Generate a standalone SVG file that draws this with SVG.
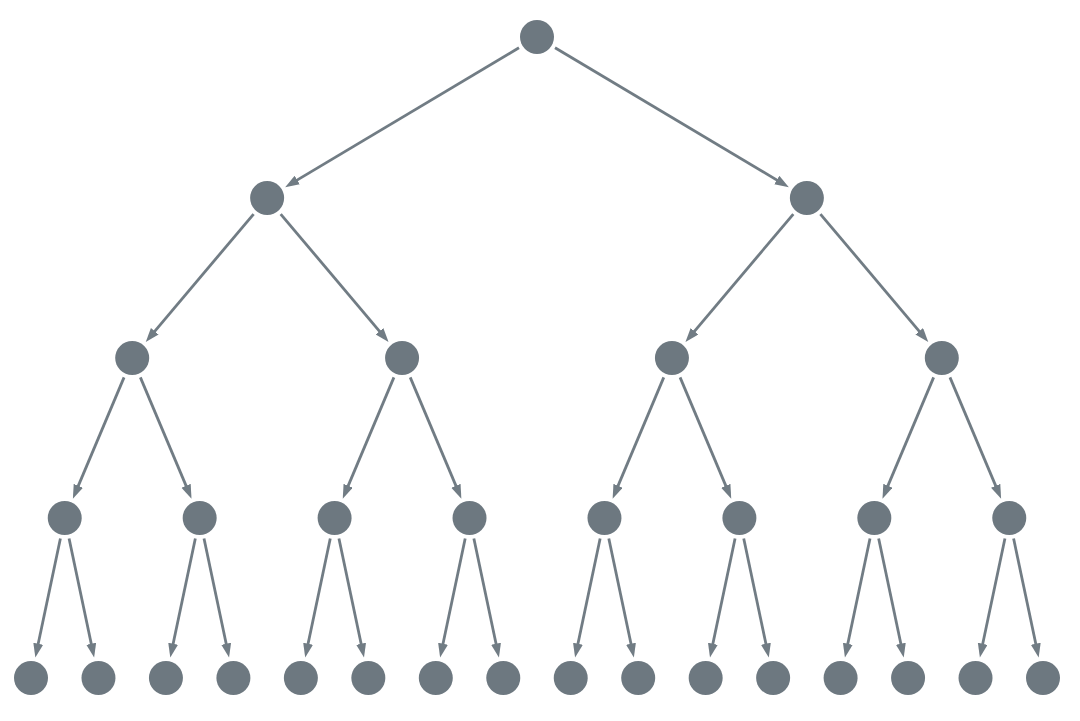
<svg xmlns="http://www.w3.org/2000/svg" width="1080" height="721" viewBox="0 0 1080 721">
<style>
.n{fill:#6d7880}
.e line{stroke:#717c84;stroke-width:2.8;fill:none;marker-end:url(#ah)}
</style>
<defs>
<marker id="ah" markerUnits="userSpaceOnUse" markerWidth="15" markerHeight="11" refX="8" refY="5" orient="auto">
<path d="M0,0 L14,5 L0,10 z" fill="#717c84"/>
</marker>
</defs>
<rect width="1080" height="721" fill="#ffffff"/>
<g id="edges" class="e">
<line x1="518.97" y1="47.76" x2="290.32" y2="184.17"/>
<line x1="555.03" y1="47.76" x2="783.68" y2="184.17"/>
<line x1="253.59" y1="214.05" x2="149.61" y2="337.36"/>
<line x1="280.67" y1="214.05" x2="384.66" y2="337.36"/>
<line x1="793.33" y1="214.05" x2="689.34" y2="337.36"/>
<line x1="820.41" y1="214.05" x2="924.39" y2="337.36"/>
<line x1="124.04" y1="377.35" x2="75.22" y2="493.12"/>
<line x1="140.36" y1="377.35" x2="189.18" y2="493.12"/>
<line x1="393.91" y1="377.35" x2="345.09" y2="493.12"/>
<line x1="410.23" y1="377.35" x2="459.04" y2="493.12"/>
<line x1="663.77" y1="377.35" x2="614.96" y2="493.12"/>
<line x1="680.09" y1="377.35" x2="728.91" y2="493.12"/>
<line x1="933.64" y1="377.35" x2="884.82" y2="493.12"/>
<line x1="949.96" y1="377.35" x2="998.78" y2="493.12"/>
<line x1="60.40" y1="538.55" x2="36.57" y2="651.58"/>
<line x1="69.06" y1="538.55" x2="92.89" y2="651.58"/>
<line x1="195.34" y1="538.55" x2="171.51" y2="651.58"/>
<line x1="204.00" y1="538.55" x2="227.83" y2="651.58"/>
<line x1="330.27" y1="538.55" x2="306.44" y2="651.58"/>
<line x1="338.93" y1="538.55" x2="362.76" y2="651.58"/>
<line x1="465.20" y1="538.55" x2="441.37" y2="651.58"/>
<line x1="473.86" y1="538.55" x2="497.69" y2="651.58"/>
<line x1="600.14" y1="538.55" x2="576.31" y2="651.58"/>
<line x1="608.80" y1="538.55" x2="632.63" y2="651.58"/>
<line x1="735.07" y1="538.55" x2="711.24" y2="651.58"/>
<line x1="743.73" y1="538.55" x2="767.56" y2="651.58"/>
<line x1="870.00" y1="538.55" x2="846.17" y2="651.58"/>
<line x1="878.66" y1="538.55" x2="902.49" y2="651.58"/>
<line x1="1004.94" y1="538.55" x2="981.11" y2="651.58"/>
<line x1="1013.60" y1="538.55" x2="1037.43" y2="651.58"/>
</g>
<g id="n0" class="n"><circle cx="537" cy="37" r="17"/></g>
<g id="n1" class="n"><circle cx="267.13" cy="198" r="17"/></g>
<g id="n2" class="n"><circle cx="806.87" cy="198" r="17"/></g>
<g id="n3" class="n"><circle cx="132.2" cy="358" r="17"/></g>
<g id="n4" class="n"><circle cx="402.07" cy="358" r="17"/></g>
<g id="n5" class="n"><circle cx="671.93" cy="358" r="17"/></g>
<g id="n6" class="n"><circle cx="941.8" cy="358" r="17"/></g>
<g id="n7" class="n"><circle cx="64.73" cy="518" r="17"/></g>
<g id="n8" class="n"><circle cx="199.67" cy="518" r="17"/></g>
<g id="n9" class="n"><circle cx="334.6" cy="518" r="17"/></g>
<g id="n10" class="n"><circle cx="469.53" cy="518" r="17"/></g>
<g id="n11" class="n"><circle cx="604.47" cy="518" r="17"/></g>
<g id="n12" class="n"><circle cx="739.4" cy="518" r="17"/></g>
<g id="n13" class="n"><circle cx="874.33" cy="518" r="17"/></g>
<g id="n14" class="n"><circle cx="1009.27" cy="518" r="17"/></g>
<g id="n15" class="n"><circle cx="31" cy="678" r="17"/></g>
<g id="n16" class="n"><circle cx="98.47" cy="678" r="17"/></g>
<g id="n17" class="n"><circle cx="165.93" cy="678" r="17"/></g>
<g id="n18" class="n"><circle cx="233.4" cy="678" r="17"/></g>
<g id="n19" class="n"><circle cx="300.87" cy="678" r="17"/></g>
<g id="n20" class="n"><circle cx="368.33" cy="678" r="17"/></g>
<g id="n21" class="n"><circle cx="435.8" cy="678" r="17"/></g>
<g id="n22" class="n"><circle cx="503.27" cy="678" r="17"/></g>
<g id="n23" class="n"><circle cx="570.73" cy="678" r="17"/></g>
<g id="n24" class="n"><circle cx="638.2" cy="678" r="17"/></g>
<g id="n25" class="n"><circle cx="705.67" cy="678" r="17"/></g>
<g id="n26" class="n"><circle cx="773.13" cy="678" r="17"/></g>
<g id="n27" class="n"><circle cx="840.6" cy="678" r="17"/></g>
<g id="n28" class="n"><circle cx="908.07" cy="678" r="17"/></g>
<g id="n29" class="n"><circle cx="975.53" cy="678" r="17"/></g>
<g id="n30" class="n"><circle cx="1043" cy="678" r="17"/></g>
</svg>
